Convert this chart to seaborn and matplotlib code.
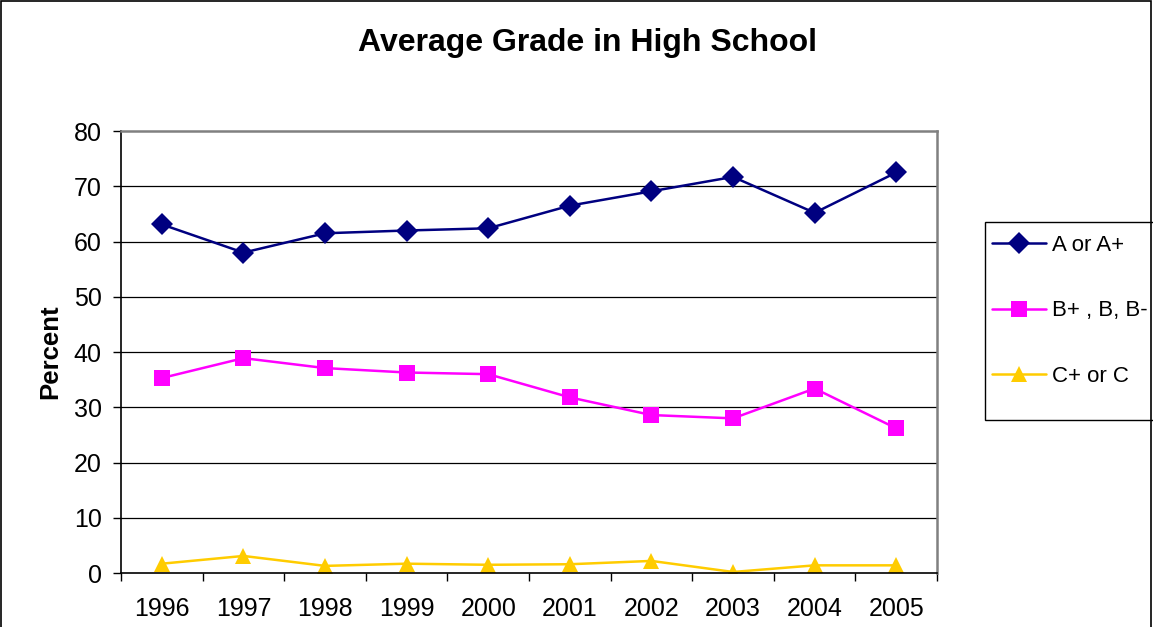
import matplotlib
matplotlib.use("Agg")
import matplotlib.pyplot as plt
from matplotlib.patches import Rectangle
import seaborn as sns
import pandas as pd

years = ["1996", "1997", "1998", "1999", "2000", "2001", "2002", "2003", "2004", "2005"]
a_or_a_plus = [63.1, 58.0, 61.5, 62.0, 62.4, 66.5, 69.1, 71.7, 65.2, 72.5]
b_range = [35.3, 38.9, 37.1, 36.3, 36.0, 31.8, 28.6, 28.0, 33.4, 26.2]
c_range = [1.7, 3.1, 1.3, 1.7, 1.5, 1.6, 2.2, 0.2, 1.4, 1.4]
series_names = ["A or A+", "B+ , B, B-", "C+ or C"]
y_ticks = [0, 10, 20, 30, 40, 50, 60, 70, 80]

sns.set_theme(style="white")
plt.rcParams["font.family"] = ["Liberation Sans", "DejaVu Sans"]
plt.rcParams["text.color"] = "black"
plt.rcParams["axes.labelcolor"] = "black"
plt.rcParams["xtick.color"] = "black"
plt.rcParams["ytick.color"] = "black"

W, H = 1153, 627
fig = plt.figure(figsize=(W / 100, H / 100), dpi=100)
ax = fig.add_axes([0.105, 0.086, 0.7077, 0.705])

colors = ["#000080", "#FF00FF", "#FFCC00"]
markers = ["D", "s", "^"]
msizes = [11.5, 11.5, 12]
for name, vals, c, m, ms in zip(series_names, [a_or_a_plus, b_range, c_range], colors, markers, msizes):
    d = pd.DataFrame({"Year": years, "Percent": vals})
    sns.lineplot(data=d, x="Year", y="Percent", color=c, marker=m, markersize=ms,
                 markeredgewidth=0, linewidth=1.8, sort=False, label=name, ax=ax)

ax.set_xlim(-0.5, 9.5)
ax.set_ylim(0, 80)
ax.set_yticks(y_ticks)
ax.set_yticklabels([str(t) for t in y_ticks], fontsize=18)
ax.set_xticks(range(len(years)))
ax.set_xticklabels(years, fontsize=18)
ax.set_xticks([i - 0.5 for i in range(len(years) + 1)], minor=True)
ax.tick_params(axis="x", which="major", length=0, pad=17)
ax.tick_params(axis="x", which="minor", length=6, width=1, color="black", direction="out", bottom=True)
ax.tick_params(axis="y", which="major", length=6, width=1, color="black", direction="out", left=True, pad=8)
for t in y_ticks[1:-1]:
    ax.axhline(t, color="black", linewidth=0.9, zorder=0)

for s in ["left", "bottom"]:
    ax.spines[s].set_color("black")
    ax.spines[s].set_linewidth(1.2)
for s in ["top", "right"]:
    ax.spines[s].set_color("#808080")
    ax.spines[s].set_linewidth(1.8)

ax.set_xlabel("")
ax.set_ylabel("Percent", fontsize=18.5, fontweight="bold", labelpad=8)
fig.text(588 / W, 0.932, "Average Grade in High School", ha="center", va="center",
         fontsize=23, fontweight="bold")

# legend frame (Excel style, extends past the right edge)
fig.patches.append(Rectangle((985 / W, 1 - 420 / H), 0.2, 198 / H, transform=fig.transFigure,
                             fill=True, facecolor="white", edgecolor="black", linewidth=1.0, zorder=-1))

handles, labels = ax.get_legend_handles_labels()
leg = ax.legend(handles, labels, loc="upper left", bbox_to_anchor=(992 / W, 1 - 235 / H),
                bbox_transform=fig.transFigure, fontsize=16, frameon=False,
                labelspacing=2.0, handlelength=2.45, borderpad=0,
                handletextpad=0.25, borderaxespad=0)

fig.patches.append(Rectangle((0.0005, -0.01), 0.998, 1.008, transform=fig.transFigure,
                             fill=False, edgecolor="black", linewidth=1.2, zorder=-1))

fig.savefig("out.png", dpi=100)
